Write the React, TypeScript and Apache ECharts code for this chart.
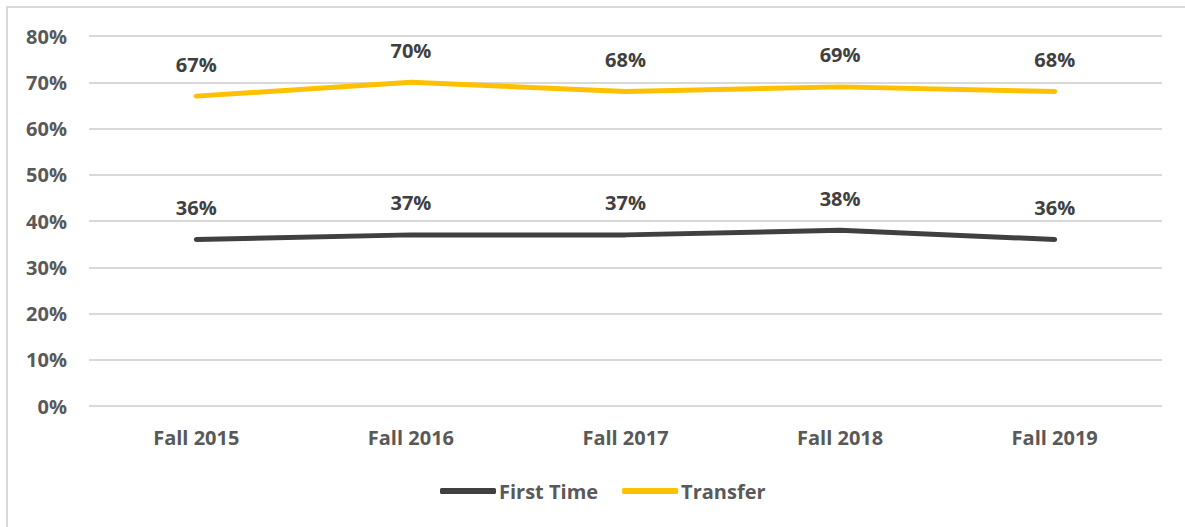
import React, { useEffect, useRef } from "react";
import * as echarts from "echarts";

const categories = ["Fall 2015", "Fall 2016", "Fall 2017", "Fall 2018", "Fall 2019"];
const firstTime = [36, 37, 37, 38, 36];
const transfer = [67, 70, 68, 69, 68];
const seriesNames = ["First Time", "Transfer"];

export default function App() {
  const ref = useRef<HTMLDivElement>(null);
  useEffect(() => {
    const chart = echarts.init(ref.current!, null, { renderer: "svg" });
    const font = "'Open Sans', 'Liberation Sans', sans-serif";
    const labelStyle = {
      show: true,
      position: "top" as const,
      distance: 22,
      formatter: "{c}%",
      color: "#404040",
      fontFamily: font,
      fontWeight: "bold" as const,
      fontSize: 20,
    };
    chart.setOption({
      animation: false,
      backgroundColor: "#ffffff",
      graphic: [
        {
          type: "rect",
          shape: { x: 7, y: 7, width: 1200, height: 600 },
          style: { fill: "none", stroke: "#d9d9d9", lineWidth: 2 },
          silent: true,
        },
      ],
      grid: { left: 89, right: 23, top: 36, bottom: 121 },
      xAxis: {
        type: "category",
        data: categories,
        boundaryGap: true,
        axisLine: { show: false },
        axisTick: { show: false },
        axisLabel: {
          color: "#595959",
          fontFamily: font,
          fontWeight: "bold",
          fontSize: 20,
          margin: 21,
        },
      },
      yAxis: {
        type: "value",
        min: 0,
        max: 80,
        interval: 10,
        axisLine: { show: false },
        axisTick: { show: false },
        splitLine: { lineStyle: { color: "#d9d9d9", width: 2 } },
        axisLabel: {
          formatter: "{value}%",
          color: "#595959",
          fontFamily: font,
          fontWeight: "bold",
          fontSize: 20,
          margin: 22,
        },
      },
      legend: {
        bottom: 21,
        left: 435,
        itemWidth: 56,
        itemHeight: 6,
        itemGap: 24,
        icon: "roundRect",
        textStyle: {
          color: "#595959",
          fontFamily: font,
          fontWeight: "bold",
          fontSize: 20,
          padding: [0, 0, 0, -2],
        },
        data: seriesNames,
      },
      series: [
        {
          name: seriesNames[0],
          type: "line",
          data: firstTime,
          symbol: "circle",
          symbolSize: 0.1,
          showSymbol: true,
          lineStyle: { color: "#404040", width: 5, cap: "round" },
          itemStyle: { color: "#404040" },
          label: labelStyle,
        },
        {
          name: seriesNames[1],
          type: "line",
          data: transfer,
          symbol: "circle",
          symbolSize: 0.1,
          showSymbol: true,
          lineStyle: { color: "#FFC000", width: 5, cap: "round" },
          itemStyle: { color: "#FFC000" },
          label: labelStyle,
        },
      ],
    });
    return () => chart.dispose();
  }, []);
  return (
    <div
      ref={ref}
      style={{ position: "absolute", left: 0, top: 0, width: 1185, height: 527 }}
    />
  );
}
